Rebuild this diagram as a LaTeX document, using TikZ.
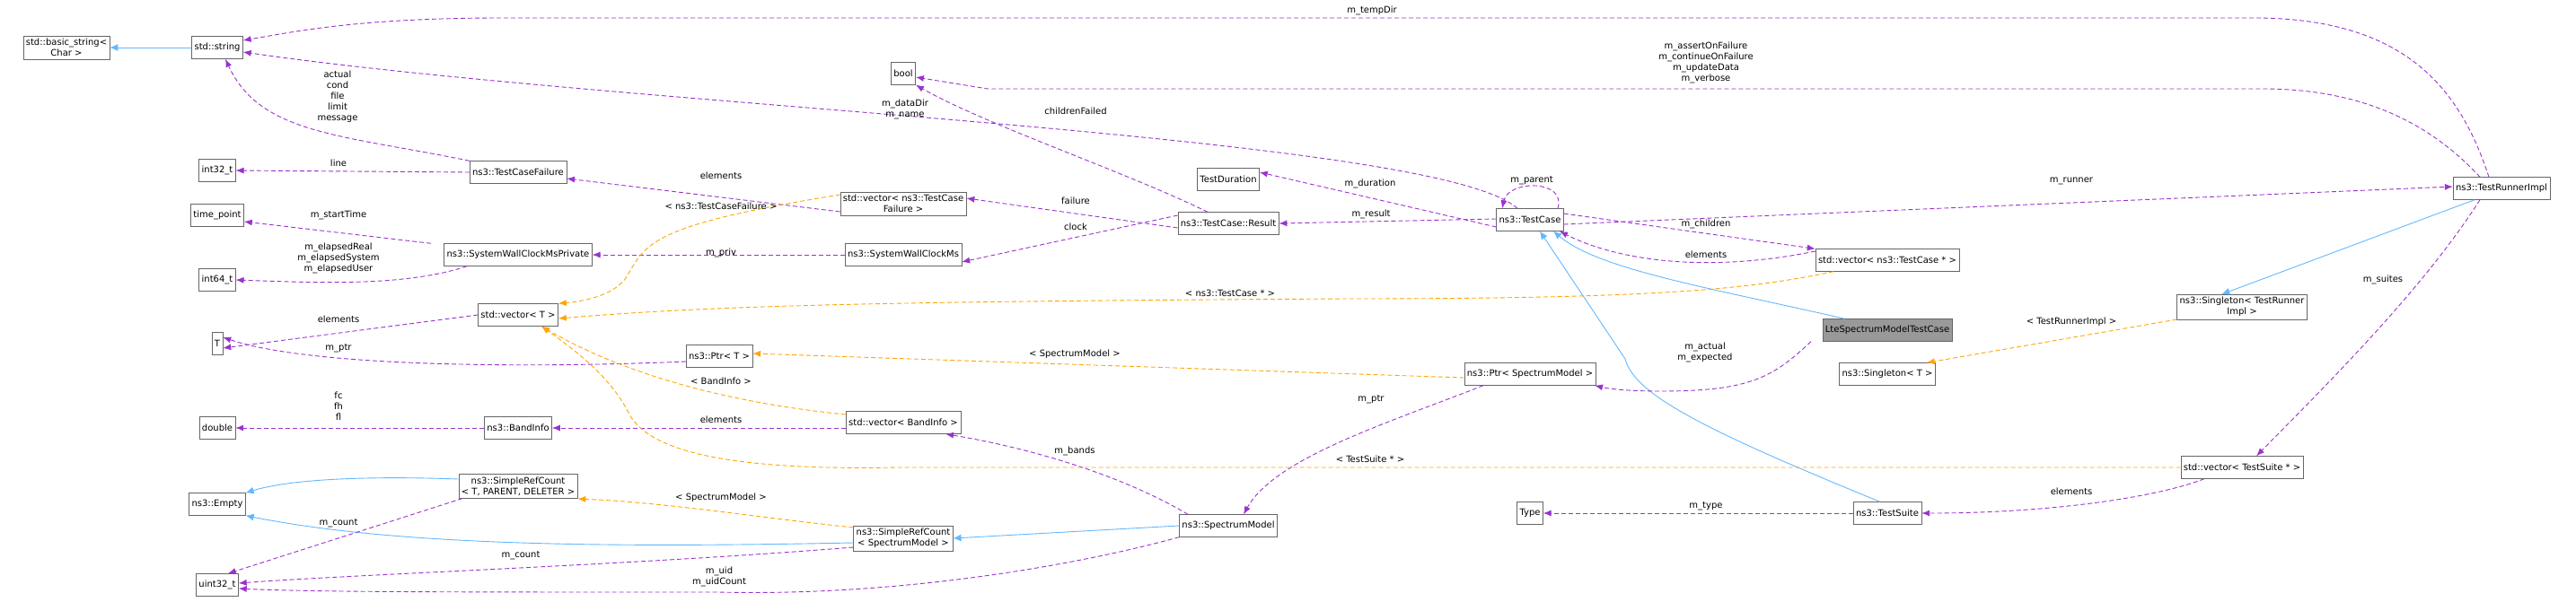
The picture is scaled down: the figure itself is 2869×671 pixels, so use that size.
\documentclass[tikz,border=0pt]{standalone}
\usepackage{fontspec}
\setmainfont{DejaVu Sans}
\usetikzlibrary{arrows.meta}

\definecolor{usecol}{HTML}{9A32CD}
\definecolor{tplcol}{HTML}{FFA500}
\definecolor{inhcol}{HTML}{63B8FF}

\begin{document}
\begin{tikzpicture}[x={(1pt,0)},y={(0,-1pt)},
  cls/.style={draw=black!60,fill=white,inner sep=3pt,minimum height=25pt,align=center,font=\fontsize{10}{12}\selectfont},
  lbl/.style={align=center,font=\fontsize{10}{12}\selectfont,inner sep=0pt},
  use/.style={usecol,dash pattern=on 5pt off 3pt,line width=0.9pt,-{Latex[length=9pt,width=7pt]}},
  tmpl/.style={tplcol,dash pattern=on 5pt off 3pt,line width=0.9pt,-{Latex[length=9pt,width=7pt]}},
  inh/.style={inhcol,line width=0.9pt,-{Latex[length=9pt,width=8pt]}}]
\useasboundingbox (0,0) rectangle (2869,671);

% Classes
\node[cls] (basic) at (74,53) {std::basic\_string\textless\\Char \textgreater};
\node[cls] (string) at (242,53) {std::string};
\node[cls] (int32) at (242,190) {int32\_t};
\node[cls] (tcfail) at (577,192) {ns3::TestCaseFailure};
\node[cls] (timept) at (242,240) {time\_point};
\node[cls] (int64) at (242,312) {int64\_t};
\node[cls] (clockpriv) at (577,284) {ns3::SystemWallClockMsPrivate};
\node[cls] (vecT) at (577,351) {std::vector\textless{} T \textgreater};
\node[cls] (T) at (242,383) {T};
\node[cls] (ptrT) at (801,397) {ns3::Ptr\textless{} T \textgreater};
\node[cls] (double) at (242,477) {double};
\node[cls] (bandinfo) at (577,477) {ns3::BandInfo};
\node[cls] (refT) at (577,542) {ns3::SimpleRefCount\\\textless{} T, PARENT, DELETER \textgreater};
\node[cls] (empty) at (242,562) {ns3::Empty};
\node[cls] (uint32) at (242,652) {uint32\_t};
\node[cls] (bool) at (1006,82) {bool};
\node[cls] (vecfail) at (1006,227) {std::vector\textless{} ns3::TestCase\\Failure \textgreater};
\node[cls] (clock) at (1006,284) {ns3::SystemWallClockMs};
\node[cls] (vecband) at (1006,471) {std::vector\textless{} BandInfo \textgreater};
\node[cls] (refSM) at (1006,600) {ns3::SimpleRefCount\\\textless{} SpectrumModel \textgreater};
\node[cls] (result) at (1368,249) {ns3::TestCase::Result};
\node[cls] (duration) at (1368,200) {TestDuration};
\node[cls] (model) at (1368,586) {ns3::SpectrumModel};
\node[cls] (testcase) at (1704,245) {ns3::TestCase};
\node[cls] (ptrSM) at (1704,417) {ns3::Ptr\textless{} SpectrumModel \textgreater};
\node[cls] (type) at (1704,572) {Type};
\node[cls] (vecTC) at (2102,290) {std::vector\textless{} ns3::TestCase * \textgreater};
\node[cls,fill=black!40] (lte) at (2102,368) {LteSpectrumModelTestCase};
\node[cls] (singT) at (2102,417) {ns3::Singleton\textless{} T \textgreater};
\node[cls] (suite) at (2102,572) {ns3::TestSuite};
\node[cls] (singTRI) at (2497,342) {ns3::Singleton\textless{} TestRunner\\Impl \textgreater};
\node[cls] (vecTS) at (2497,521) {std::vector\textless{} TestSuite * \textgreater};
\node[cls] (runner) at (2786,210) {ns3::TestRunnerImpl};

% Inheritance
\draw[inh] (string.west) -- (basic.east |- string.west);
\draw[inh] (refT.west) ++(0,-8) .. controls (400,530) and (320,535) .. (empty.north east);
\draw[inh] (refSM.west) ++(0,5) .. controls (700,610) and (450,610) .. (empty.south east);
\draw[inh] (model.west) -- (refSM.east);
\draw[inh] (lte.north west) ++(25,0) .. controls (1900,320) and (1780,300) .. ([xshift=26pt]testcase.south);
\draw[inh] (suite.north west) ++(30,0) .. controls (1900,480) and (1820,440) .. (1810,400) -- ([xshift=11pt]testcase.south);
\draw[inh] ([xshift=-30pt]runner.south) -- ([xshift=50pt]singTRI.north west);

% Members
\draw[use] ([xshift=-14pt]runner.north) .. controls (2740,100) and (2680,20) .. (2510,20) -- (560,20) .. controls (400,20) and (330,35) .. ([yshift=8pt]string.east);
\draw[use] ([xshift=-14pt]testcase.north) .. controls (1600,150) and (700,120) .. ([yshift=-5pt]string.east);
\draw[use] (tcfail.north west) .. controls (380,150) and (290,150) .. ([xshift=9pt]string.south);
\draw[use] ([xshift=-24pt]runner.north) .. controls (2700,130) and (2620,99) .. (2520,99) -- (1100,99) -- ([yshift=-4pt]bool.east);
\draw[use] ([xshift=-23pt]result.north) .. controls (1250,190) and (1100,140) .. (bool.south east);
\draw[use] (tcfail.west) -- (int32.east);
\draw[use] ([yshift=-9pt]vecfail.west) -- ([yshift=-7pt]tcfail.east);
\draw[use] ([xshift=-97pt]clockpriv.north) -- ([yshift=-7pt]timept.east);
\draw[use] ([xshift=-57pt]clockpriv.south) .. controls (450,320) and (350,315) .. (int64.east);
\draw[use] (clock.west) -- (clockpriv.east);
\draw[use] ([yshift=-5pt]result.west) -- ([yshift=6pt]vecfail.east);
\draw[use] ([yshift=9pt]result.west) -- ([yshift=-8pt]clock.east);
\draw[use] ([yshift=1pt]testcase.west) -- (result.east);
\draw[use] ([yshift=-8pt]testcase.west) -- ([yshift=8pt]duration.east);
\draw[use] ([xshift=31pt]testcase.north) .. controls (1745,200) and (1680,200) .. ([xshift=-31pt]testcase.north);
\draw[use] ([yshift=-5pt]testcase.east) -- ([yshift=2pt]runner.west);
\draw[use] ([yshift=7pt]testcase.east) -- (vecTC.north west);
\draw[use] ([yshift=10pt]vecTC.west) .. controls (1900,305) and (1800,290) .. ([xshift=33pt]testcase.south);
\draw[use] (vecT.west) -- ([yshift=-5pt]T.east);
\draw[use] (ptrT.west) ++(0,6) .. controls (600,410) and (350,410) .. ([yshift=7pt]T.east);
\draw[use] ([xshift=-85pt]lte.south) .. controls (1975,420) and (1950,436) .. (1850,436) .. controls (1810,436) and (1790,433) .. ([xshift=72pt]ptrSM.south);
\draw[use] ([xshift=-52pt]ptrSM.south) .. controls (1550,470) and (1420,510) .. ([xshift=17pt]model.north);
\draw[use] (vecband.west) ++(0,6) -- (bandinfo.east);
\draw[use] (bandinfo.west) -- (double.east);
\draw[use] ([xshift=-45pt]model.north) .. controls (1250,530) and (1150,500) .. ([xshift=47pt]vecband.south);
\draw[use] ([xshift=-62pt]refT.south) -- ([xshift=-12pt]uint32.north east);
\draw[use] (refSM.west) ++(0,10) .. controls (700,630) and (400,640) .. ([yshift=2pt]uint32.east);
\draw[use] (model.south west) .. controls (1200,630) and (1000,665) .. (800,660) .. controls (500,660) and (350,660) .. ([yshift=-4pt]uint32.east);
\draw[use] ([xshift=-24pt]runner.south) .. controls (2700,320) and (2600,420) .. ([xshift=16pt]vecTS.north);
\draw[use] ([xshift=-42pt]vecTS.south) .. controls (2400,555) and (2280,572) .. (suite.east);
\draw[use] (suite.west) -- (type.east);

% Templates
\draw[tmpl] ([yshift=10pt]vecfail.west) .. controls (730,250) and (720,270) .. (700,305) .. controls (690,325) and (660,335) .. (vecT.north east);
\draw[tmpl] ([xshift=-60pt]vecTC.south) .. controls (1950,322) and (1850,333) .. (1500,333) .. controls (1000,336) and (800,340) .. ([yshift=-4pt]vecT.east);
\draw[tmpl] ([yshift=-4pt]ptrSM.west) -- ([yshift=3pt]ptrT.east);
\draw[tmpl] (vecband.west) ++(0,-9) .. controls (820,450) and (700,420) .. ([xshift=26pt]vecT.south);
\draw[tmpl] (vecTS.west) -- (1000,521) .. controls (800,525) and (720,500) .. (700,460) .. controls (680,420) and (640,390) .. ([xshift=26pt]vecT.south);
\draw[tmpl] (refSM.west) ++(0,-12) .. controls (830,575) and (740,560) .. ([yshift=-14pt]refT.east);
\draw[tmpl] (singTRI.south west) -- ([xshift=-10pt]singT.north east);

% Labels
\node[lbl] (lTemp) at (1528,12) {m\_tempDir};
\node[lbl] (lFlags) at (1900,70) {m\_assertOnFailure\\m\_continueOnFailure\\m\_updateData\\m\_verbose};
\node[lbl] (lData) at (1008,122) {m\_dataDir\\m\_name};
\node[lbl] (lChild) at (1198,124) {childrenFailed};
\node[lbl] (lStr) at (376,108) {actual\\cond\\file\\limit\\message};
\node[lbl] (lLine) at (377,182) {line};
\node[lbl] (lElFail) at (803,196) {elements};
\node[lbl] (lTFail) at (803,230) {\textless{} ns3::TestCaseFailure \textgreater};
\node[lbl] (lStart) at (377,240) {m\_startTime};
\node[lbl] (lElapsed) at (377,288) {m\_elapsedReal\\m\_elapsedSystem\\m\_elapsedUser};
\node[lbl] (lPriv) at (803,282) {m\_priv};
\node[lbl] (lElT) at (377,356) {elements};
\node[lbl] (lPtrT) at (377,388) {m\_ptr};
\node[lbl] (lTBand) at (803,425) {\textless{} BandInfo \textgreater};
\node[lbl] (lF) at (377,453) {fc\\fh\\fl};
\node[lbl] (lElBand) at (803,468) {elements};
\node[lbl] (lTSM1) at (803,555) {\textless{} SpectrumModel \textgreater};
\node[lbl] (lCount1) at (377,583) {m\_count};
\node[lbl] (lCount2) at (580,619) {m\_count};
\node[lbl] (lUid) at (801,643) {m\_uid\\m\_uidCount};
\node[lbl] (lFailure) at (1198,224) {failure};
\node[lbl] (lClock) at (1198,253) {clock};
\node[lbl] (lDur) at (1526,205) {m\_duration};
\node[lbl] (lRes) at (1527,239) {m\_result};
\node[lbl] (lParent) at (1706,201) {m\_parent};
\node[lbl] (lTTC) at (1370,327) {\textless{} ns3::TestCase * \textgreater};
\node[lbl] (lTSM2) at (1197,395) {\textless{} SpectrumModel \textgreater};
\node[lbl] (lPtrSM) at (1527,445) {m\_ptr};
\node[lbl] (lBands) at (1197,503) {m\_bands};
\node[lbl] (lTTS) at (1526,512) {\textless{} TestSuite * \textgreater};
\node[lbl] (lRunner) at (2307,202) {m\_runner};
\node[lbl] (lChildren) at (1900,250) {m\_children};
\node[lbl] (lElTC) at (1900,284) {elements};
\node[lbl] (lActual) at (1899,393) {m\_actual\\m\_expected};
\node[lbl] (lTTRI) at (2307,359) {\textless{} TestRunnerImpl \textgreater};
\node[lbl] (lSuites) at (2654,312) {m\_suites};
\node[lbl] (lElTS) at (2307,548) {elements};
\node[lbl] (lType) at (1900,564) {m\_type};
\end{tikzpicture}
\end{document}
